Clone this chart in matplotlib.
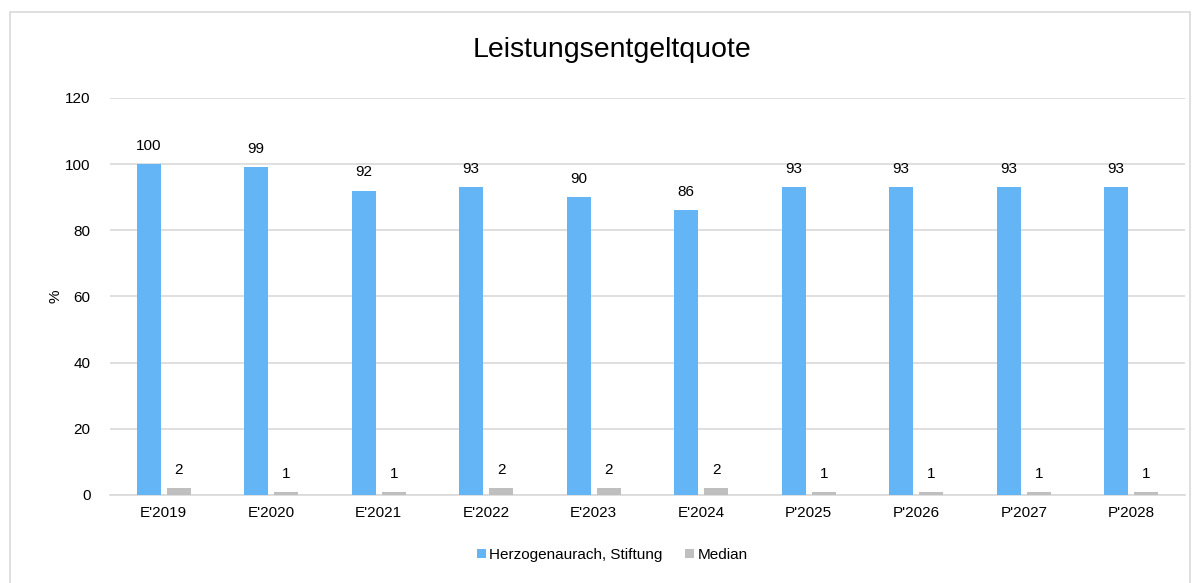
import numpy as np
import matplotlib.pyplot as plt
from matplotlib.patches import Rectangle

plt.rcParams['font.family'] = ['Liberation Sans', 'DejaVu Sans']

years = ["E'2019", "E'2020", "E'2021", "E'2022", "E'2023",
         "E'2024", "P'2025", "P'2026", "P'2027", "P'2028"]
herzogenaurach = [100, 99, 92, 93, 90, 86, 93, 93, 93, 93]
median = [2, 1, 1, 2, 2, 2, 1, 1, 1, 1]


def main():
    fig = plt.figure(figsize=(12, 5.83), dpi=100)
    ax = fig.add_axes([0.0917, 0.151, 0.8958, 0.681])

    # outer chart border (bottom edge runs off the image)
    fig.patches.append(Rectangle((10 / 1200, -0.05), 1180 / 1200, 1.05 - 12 / 583,
                                 transform=fig.transFigure, fill=False,
                                 edgecolor='#D9D9D9', linewidth=1.2))

    x = np.arange(len(years))
    w = 0.225
    b1 = ax.bar(x - 0.14, herzogenaurach, w, color='#63B5F6',
                label='Herzogenaurach, Stiftung', zorder=3)
    b2 = ax.bar(x + 0.14, median, w, color='#BFBFBF', label='Median', zorder=3)

    for bars, vals in ((b1, herzogenaurach), (b2, median)):
        for r, v in zip(bars, vals):
            ax.annotate(str(v), (r.get_x() + r.get_width() / 2, r.get_height()),
                        xytext=(0, 8), textcoords='offset points',
                        ha='center', va='bottom', fontsize=11, color='#000000')

    ax.set_xlim(-0.5, len(years) - 0.5)
    ax.set_ylim(0, 120)
    ax.set_yticks(range(0, 121, 20))
    ax.set_xticks(x)
    ax.set_xticklabels(years)
    ax.tick_params(axis='both', length=0, labelsize=11, colors='#000000')
    ax.tick_params(axis='x', pad=8)
    ax.tick_params(axis='y', pad=14)
    ax.yaxis.grid(True, color='#D9D9D9', linewidth=1.2, zorder=0)
    for s in ['top', 'right', 'left']:
        ax.spines[s].set_visible(False)
    ax.spines['bottom'].set_color('#D9D9D9')
    ax.spines['bottom'].set_linewidth(1.2)
    ax.set_axisbelow(True)

    ax.set_ylabel('%', fontsize=11, labelpad=2)
    fig.text(0.51, 0.914, 'Leistungsentgeltquote', ha='center', va='center',
             fontsize=20.5)

    fig.legend(loc='center', bbox_to_anchor=(0.51, 0.048), ncol=2, frameon=False,
               fontsize=11, handlelength=0.6, handleheight=0.6,
               handletextpad=0.2, columnspacing=1.5)

    plt.savefig('out.png', dpi=100)


if __name__ == '__main__':
    main()
